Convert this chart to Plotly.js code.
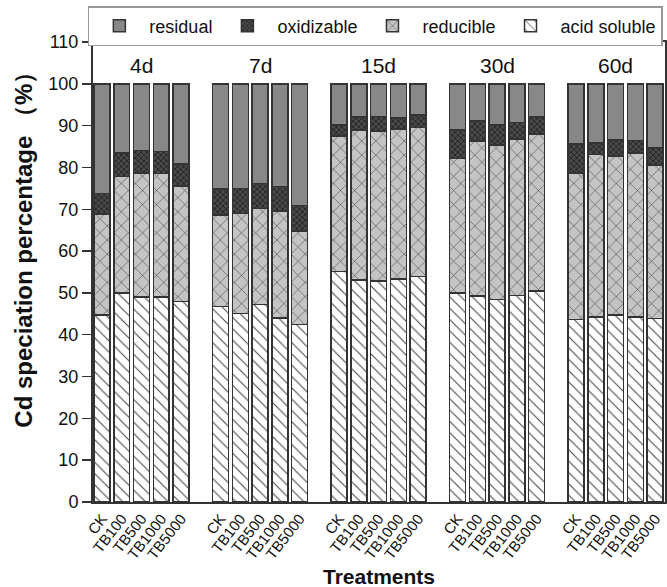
<!DOCTYPE html>
<html>
<head>
<meta charset="utf-8">
<script src="https://cdn.plot.ly/plotly-3.0.1.min.js"></script>
<style>html,body{margin:0;padding:0;background:#fff;}#chart{width:667px;height:587px;}</style>
</head>
<body>
<div id="chart"></div>
<script>
const periods = ["4d", "7d", "15d", "30d", "60d"];
const treatments = ["CK", "TB100", "TB500", "TB1000", "TB5000"];

// values per period, in treatment order (CK, TB100, TB500, TB1000, TB5000)
const acidSoluble = [
  [44.7, 50.0, 49.0, 49.0, 47.9],
  [46.8, 45.1, 47.2, 44.0, 42.5],
  [55.1, 53.1, 52.9, 53.3, 53.9],
  [50.0, 49.3, 48.4, 49.4, 50.4],
  [43.7, 44.3, 44.7, 44.2, 43.9]
];
const reducible = [
  [24.2, 27.8, 29.7, 29.6, 27.7],
  [21.8, 23.9, 23.0, 25.6, 22.3],
  [32.4, 35.9, 35.8, 35.9, 35.6],
  [32.2, 37.0, 37.0, 37.4, 37.6],
  [35.0, 38.8, 38.0, 39.2, 36.7]
];
const oxidizable = [
  [4.9, 5.6, 5.4, 5.2, 5.2],
  [6.2, 6.0, 6.0, 5.9, 6.1],
  [2.6, 3.1, 3.5, 2.6, 3.0],
  [6.8, 4.8, 4.7, 4.0, 4.1],
  [6.9, 2.8, 3.9, 3.0, 4.0]
];
const residual = [
  [26.2, 16.6, 15.9, 16.2, 19.2],
  [25.2, 25.0, 23.8, 24.5, 29.1],
  [9.9, 7.9, 7.8, 8.2, 7.5],
  [11.0, 8.9, 9.9, 9.2, 7.9],
  [14.4, 14.1, 13.4, 13.6, 15.4]
];
const yTicks = [0, 10, 20, 30, 40, 50, 60, 70, 80, 90, 100, 110];

const slotsPerGroup = 6;
const xs = [], tickText = [];
periods.forEach((p, g) => treatments.forEach((t, i) => { xs.push(g * slotsPerGroup + i); tickText.push(t); }));
const flat = arr => arr.flat();

const lineStyle = {color: '#333', width: 1.5};
const FONT = 'Liberation Sans, Arial, sans-serif';

const traces = [
  {name: 'acid soluble', y: flat(acidSoluble),
   marker: {color: '#ffffff', line: lineStyle, pattern: {shape: '\\', fgcolor: '#444', bgcolor: '#ffffff', size: 8, solidity: 0.13}}},
  {name: 'reducible', y: flat(reducible),
   marker: {color: '#c4c4c4', line: lineStyle, pattern: {shape: 'x', fgcolor: '#333', bgcolor: '#c4c4c4', size: 10, solidity: 0.1}}},
  {name: 'oxidizable', y: flat(oxidizable),
   marker: {color: '#3c3c3c', line: lineStyle, pattern: {shape: 'x', fgcolor: '#111', bgcolor: '#4a4a4a', size: 4, solidity: 0.3}}},
  {name: 'residual', y: flat(residual),
   marker: {color: '#888888', line: lineStyle}}
].map(t => Object.assign({type: 'bar', x: xs, width: 0.8, hoverinfo: 'skip'}, t));

const annotations = periods.map((p, g) => ({
  x: g * slotsPerGroup + 2, y: 104.3, xref: 'x', yref: 'y', text: p, showarrow: false,
  font: {family: FONT, size: 21, color: '#111'}
}));
annotations.push({
  xref: 'paper', yref: 'paper', x: -0.122, y: 0.562, xanchor: 'center', yanchor: 'middle',
  text: 'Cd speciation percentage （%）', textangle: -90, showarrow: false,
  font: {family: FONT, size: 24, color: '#111', weight: 'bold'}
});
annotations.push({
  xref: 'paper', yref: 'paper', x: 0.5, y: -0.163, xanchor: 'center', yanchor: 'middle',
  text: 'Treatments', showarrow: false,
  font: {family: FONT, size: 21, color: '#111', weight: 'bold'}
});

const layout = {
  width: 667, height: 587,
  margin: {l: 93, r: 2, t: 42, b: 85},
  paper_bgcolor: '#fff', plot_bgcolor: '#fff',
  barmode: 'stack',
  font: {family: FONT, color: '#111'},
  showlegend: true,
  legend: {
    orientation: 'h', traceorder: 'reversed', x: -0.009, xanchor: 'left', y: 1.078, yanchor: 'top',
    bordercolor: '#999', borderwidth: 1.5, bgcolor: '#fff',
    font: {family: FONT, size: 18, color: '#111'}, itemwidth: 50, tracegroupgap: 0
  },
  xaxis: {
    range: [-0.46, 28.5], tickvals: xs, ticktext: tickText, tickangle: -52,
    showgrid: false, zeroline: false, ticks: '', showline: true, linecolor: '#333', linewidth: 2, mirror: true,
    tickfont: {family: FONT, size: 15, color: '#111'}
  },
  yaxis: {
    range: [0, 110], tickvals: yTicks, showgrid: false, zeroline: false,
    ticks: 'outside', ticklen: 9, tickwidth: 1.5, tickcolor: '#333',
    showline: true, linecolor: '#333', linewidth: 2, mirror: true,
    tickfont: {family: FONT, size: 18, color: '#111'}
  },
  annotations: annotations
};

Plotly.newPlot('chart', traces, layout, {displayModeBar: false, staticPlot: true});
</script>
</body>
</html>
